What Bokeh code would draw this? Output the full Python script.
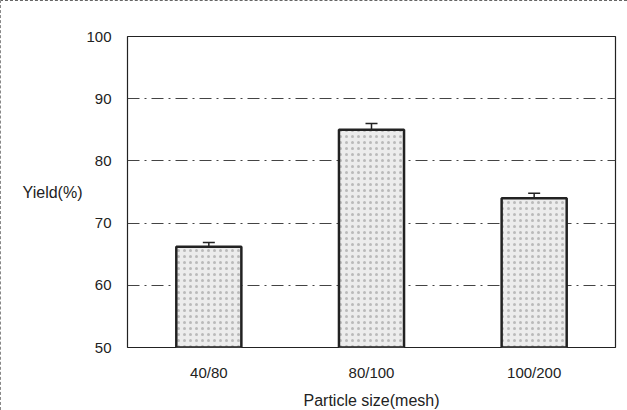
from bokeh.plotting import figure
from bokeh.models import ColumnDataSource, Whisker, TeeHead, FixedTicker
from bokeh.embed import file_html
from bokeh.resources import INLINE

categories = ["40/80", "80/100", "100/200"]
yield_pct = [66.2, 85.0, 74.0]
yield_err = [0.7, 1.0, 0.8]
y_ticks = [50, 60, 70, 80, 90, 100]

src = ColumnDataSource(dict(
    x=categories,
    y=yield_pct,
    upper=[v + e for v, e in zip(yield_pct, yield_err)],
    lower=[v - e for v, e in zip(yield_pct, yield_err)],
))

p = figure(x_range=categories, y_range=(50, 100), width=627, height=410,
           output_backend="svg", toolbar_location=None,
           min_border_left=126, min_border_right=13, min_border_top=35, min_border_bottom=60)

p.vbar(x="x", top="y", bottom=50, width=0.4, source=src,
       fill_color="#ececec", line_color="#222222", line_width=2.5,
       hatch_pattern="dot", hatch_color="#9a9a9a", hatch_scale=6, hatch_alpha=0.6)

w = Whisker(base="x", upper="upper", lower="lower", source=src,
            line_color="#222222", line_width=1.5,
            upper_head=TeeHead(size=12, line_color="#222222", line_width=1.5),
            lower_head=TeeHead(size=12, line_color="#222222", line_width=1.5))
p.add_layout(w)

p.outline_line_color = "#222222"
p.outline_line_width = 1.2

p.xgrid.grid_line_color = None
p.ygrid.grid_line_color = "#444444"
p.ygrid.grid_line_dash = "12 5 2 5"
p.ygrid.grid_line_width = 1

p.yaxis.ticker = FixedTicker(ticks=y_ticks)
for ax in (p.xaxis[0], p.yaxis[0]):
    ax.axis_line_color = None
    ax.major_tick_line_color = None
    ax.minor_tick_line_color = None
    ax.major_label_text_font = "Liberation Sans"
    ax.major_label_text_font_size = "15px"
    ax.major_label_text_color = "#222222"
    ax.axis_label_text_font = "Liberation Sans"
    ax.axis_label_text_font_size = "16px"
    ax.axis_label_text_font_style = "normal"
    ax.axis_label_text_color = "#222222"

p.xaxis.axis_label = "Particle size(mesh)"
p.xaxis.major_label_standoff = 10
p.xaxis.axis_label_standoff = 8
p.yaxis.axis_label = "Yield(%)"
p.yaxis.axis_label_orientation = "horizontal"
p.yaxis.major_label_standoff = 10
p.yaxis.axis_label_standoff = 1

p.styles = {"border-top": "1px dashed #666", "border-left": "1px dashed #888", "box-sizing": "border-box"}

open("out.html", "w").write(file_html(p, INLINE))
